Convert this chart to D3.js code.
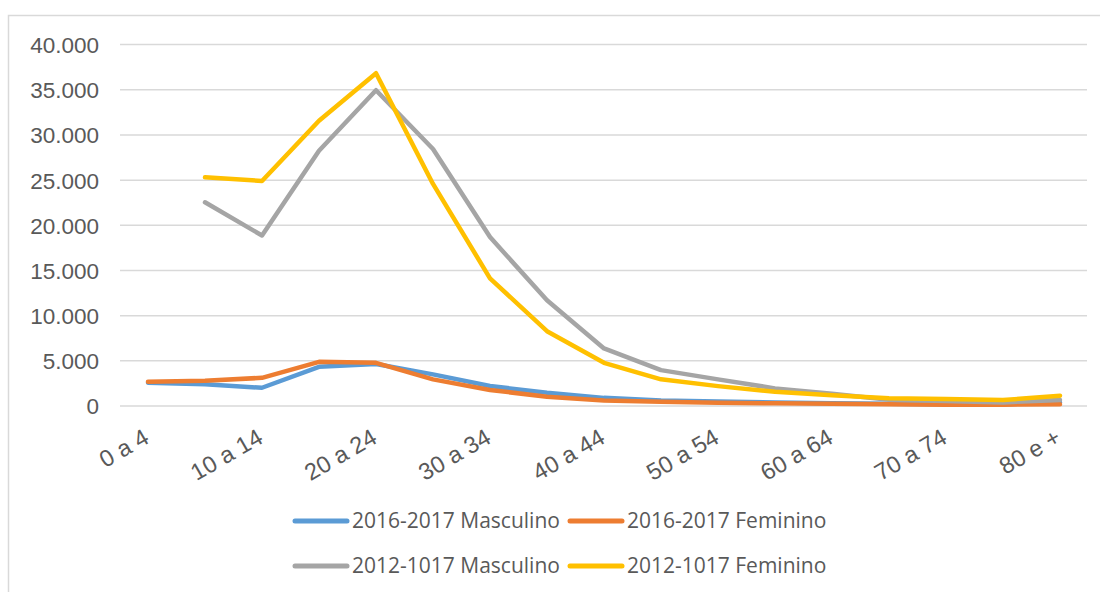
<!DOCTYPE html>
<html>
<head>
<meta charset="utf-8">
<script src="https://cdn.jsdelivr.net/npm/d3@7/dist/d3.min.js"></script>
<style>
  html, body { margin: 0; padding: 0; background: #fff; }
  svg { display: block; }
</style>
</head>
<body>
<svg id="chart" width="1100" height="592"></svg>
<script>
const categories = ["0 a 4","5 a 9","10 a 14","15 a 19","20 a 24","25 a 29","30 a 34","35 a 39","40 a 44","45 a 49","50 a 54","55 a 59","60 a 64","65 a 69","70 a 74","75 a 79","80 e +"];
const masc1617 = [2570, 2400, 2020, 4340, 4640, 3500, 2210, 1470, 900, 600, 500, 400, 300, 250, 200, 200, 400];
const fem1617  = [2680, 2790, 3120, 4890, 4780, 2950, 1770, 1030, 620, 480, 370, 300, 250, 200, 150, 150, 190];
const masc1217 = [null, 22550, 18870, 28260, 34950, 28440, 18700, 11700, 6370, 3970, 2950, 1950, 1350, 700, 550, 400, 660];
const fem1217  = [null, 25310, 24910, 31570, 36830, 24580, 14130, 8280, 4780, 2950, 2200, 1580, 1200, 850, 770, 660, 1140];
const yTicks = [0, 5000, 10000, 15000, 20000, 25000, 30000, 35000, 40000];
const seriesNames = ["2016-2017 Masculino","2016-2017 Feminino","2012-1017 Masculino","2012-1017 Feminino"];
const seriesColors = ["#5B9BD5","#ED7D31","#A5A5A5","#FFC000"];
const seriesValues = [masc1617, fem1617, masc1217, fem1217];

const svg = d3.select("#chart");

// chart border
svg.append("rect").attr("x", 8.5).attr("y", 15.5).attr("width", 1100).attr("height", 600)
  .attr("fill", "#fff").attr("stroke", "#d9d9d9").attr("stroke-width", 1.5);

const x = d3.scalePoint().domain(categories).range([148, 1060]);
const y = d3.scaleLinear().domain([0, 40000]).range([406, 44.6]);
const plotLeft = 120, plotRight = 1087;

const fmt = v => d3.format(",")(v).replace(/,/g, ".");

// gridlines
svg.append("g").selectAll("line").data(yTicks).join("line")
  .attr("x1", plotLeft).attr("x2", plotRight)
  .attr("y1", d => y(d)).attr("y2", d => y(d))
  .attr("stroke", "#d9d9d9").attr("stroke-width", 1.5);

// y axis labels
const yAxis = d3.axisLeft(y).tickValues(yTicks).tickFormat(fmt).tickSize(0).tickPadding(0);
const gy = svg.append("g").attr("transform", "translate(99,0)").call(yAxis);
gy.select(".domain").remove();
gy.selectAll("text").attr("font-family", "Liberation Sans, Arial, sans-serif")
  .attr("font-size", 22.5).attr("fill", "#595959").attr("dy", "0.35em");

// x axis labels (every other category)
const xAxis = d3.axisBottom(x).tickValues(categories.filter((d, i) => i % 2 === 0)).tickSize(0).tickPadding(0);
const gx = svg.append("g").attr("transform", "translate(0,406)").call(xAxis);
gx.select(".domain").remove();
gx.selectAll("text")
  .attr("font-family", "Liberation Sans, Arial, sans-serif")
  .attr("font-size", 23.5).attr("fill", "#595959")
  .attr("text-anchor", "end")
  .attr("y", 0).attr("dy", 0)
  .attr("transform", "translate(2,36) rotate(-30)");

// lines
const line = d3.line()
  .defined(d => d != null)
  .x((d, i) => x(categories[i]))
  .y(d => y(d));
seriesValues.forEach((vals, k) => {
  svg.append("path").datum(vals)
    .attr("d", line)
    .attr("fill", "none")
    .attr("stroke", seriesColors[k])
    .attr("stroke-width", 4.5)
    .attr("stroke-linejoin", "round")
    .attr("stroke-linecap", "round");
});

// legend
const legendPos = [[293, 521], [568, 521], [293, 566], [568, 566]];
seriesNames.forEach((name, k) => {
  const [lx, ly] = legendPos[k];
  const g = svg.append("g").attr("transform", `translate(${lx},${ly})`);
  g.append("line").attr("x1", 2).attr("x2", 54).attr("y1", 0).attr("y2", 0)
    .attr("stroke", seriesColors[k]).attr("stroke-width", 5).attr("stroke-linecap", "round");
  g.append("text").attr("x", 59).attr("y", 0).attr("dy", "0.35em")
    .attr("font-family", "Open Sans, Noto Sans, sans-serif")
    .attr("font-size", 21).attr("fill", "#595959")
    .text(name);
});
</script>
</body>
</html>
